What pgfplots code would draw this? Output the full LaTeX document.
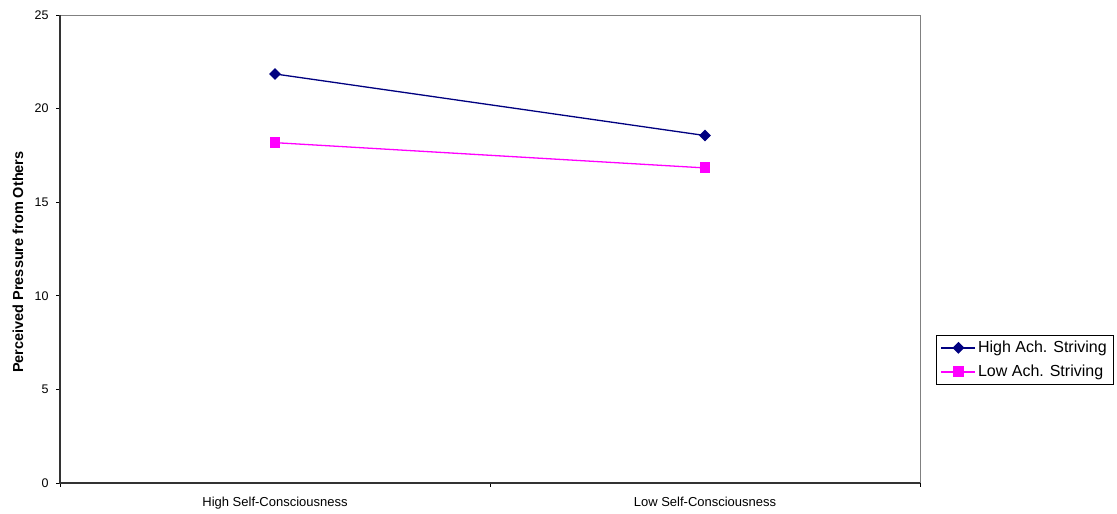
\documentclass[border=0pt]{standalone}
\usepackage{pgfplots}
\pgfplotsset{compat=1.18}
\usepackage{fontspec}
\setmainfont{Liberation Sans}
\definecolor{navyline}{RGB}{0,0,128}
\definecolor{magline}{RGB}{255,0,255}
\definecolor{framegray}{RGB}{128,128,128}
\begin{document}
\begin{tikzpicture}[x=1bp,y=1bp]
\useasboundingbox (0,0) rectangle (1117,514);
\begin{axis}[
  at={(60bp,31bp)}, anchor=south west,
  scale only axis, width=860bp, height=468bp,
  xmin=-0.5, xmax=1.5, ymin=0, ymax=25,
  xtick={0,1},
  xticklabels={High Self-Consciousness, Low Self-Consciousness},
  minor xtick={-0.5,0.5,1.5},
  ytick={0,5,10,15,20,25},
  tick align=outside,
  major tick length=4bp, minor tick length=4bp,
  x tick style={draw=none},
  minor x tick style={draw=black, line width=0.6bp},
  y tick style={draw=black, line width=0.6bp},
  xtick pos=bottom, ytick pos=left,
  /pgf/number format/assume math mode=true,
  tick label style={font=\fontsize{12.5bp}{14bp}\selectfont},
  xticklabel style={font=\fontsize{13bp}{15bp}\selectfont, yshift=-7bp},
  yticklabel style={xshift=-4bp},
  axis line style={draw=none},
  ylabel={\bfseries Perceived Pressure from Others},
  ylabel style={font=\fontsize{14.5bp}{16bp}\selectfont,
    at={(axis description cs:-0.0488,0.472)}, anchor=center},
  legend style={at={(axis description cs:1.2256,0.3162)}, anchor=north east,
    draw=black, line width=0.6bp,
    font=\fontsize{16bp}{18bp}\selectfont, inner xsep=5bp, inner ysep=4bp,
    row sep=7bp, cells={anchor=west}},
  legend image code/.code={
    \draw[#1] (0bp,0bp) -- (34bp,0bp);
    \draw[#1, mark repeat=2, mark phase=2] plot coordinates {(0bp,0bp) (17bp,0bp) (34bp,0bp)};
  },
  clip=false,
]
% plot frame: dark left and bottom axes, grey top and right edges
\draw[framegray, line width=0.8bp] (rel axis cs:0,1) -- (rel axis cs:1,1) -- (rel axis cs:1,0);
\draw[black!80, line width=1.6bp] (rel axis cs:0,1) -- (rel axis cs:0,0) -- (rel axis cs:1,0);

\addplot[navyline, line width=1.3bp, mark=diamond*, mark size=5bp,
  mark options={xscale=1.33, solid}]
  coordinates {(0,21.85) (1,18.56)};
\addlegendentry{High Ach. Striving}

\addplot[magline, line width=1.3bp, mark=square*, mark size=4.8bp]
  coordinates {(0,18.18) (1,16.83)};
\addlegendentry{Low Ach. Striving}
\end{axis}
\end{tikzpicture}
\end{document}
